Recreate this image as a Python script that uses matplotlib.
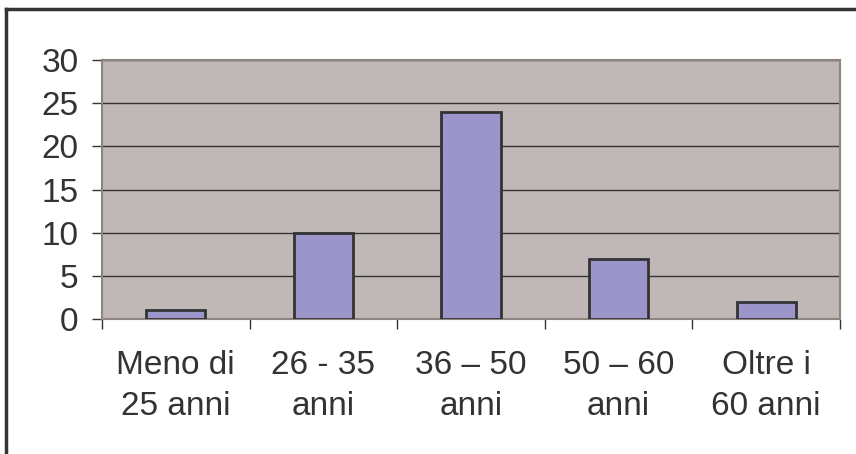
import matplotlib.pyplot as plt
from matplotlib.lines import Line2D
import numpy as np

categories = ['Meno di\n25 anni', '26 - 35\nanni', '36 – 50\nanni', '50 – 60\nanni', 'Oltre i\n60 anni']
values = [1, 10, 24, 7, 2]
yticks = [0, 5, 10, 15, 20, 25, 30]

plt.rcParams['font.family'] = ['Liberation Sans', 'DejaVu Sans']
txt = '#333333'
spine = '#8e8480'

fig = plt.figure(figsize=(8.56, 4.54), dpi=100)
ax = fig.add_axes([102 / 856, 135 / 454, 738 / 856, 259 / 454])
ax.set_facecolor('#c0b8b6')

x = np.arange(len(values))
ax.bar(x, values, width=0.4, color='#9b95c9', edgecolor='#333333', linewidth=2, zorder=3)

ax.set_xlim(-0.5, len(values) - 0.5)
ax.set_ylim(0, 30)
ax.set_yticks(yticks)
ax.yaxis.grid(True, color='#333333', linewidth=1)
ax.set_axisbelow(True)

# boundaries as major ticks, labels on minor ticks at the centres
ax.set_xticks(np.arange(-0.5, len(values)))
ax.set_xticklabels([])
ax.set_xticks(x, minor=True)
ax.set_xticklabels(categories, minor=True, fontsize=24, color=txt, linespacing=1.42)
ax.tick_params(axis='x', which='major', direction='out', length=7, width=1, color='#333333')
ax.tick_params(axis='x', which='minor', length=0, pad=22)
ax.tick_params(axis='y', direction='out', length=7, width=1, color='#333333',
               labelsize=24, labelcolor=txt, pad=10)

for s in ['left', 'bottom', 'top', 'right']:
    ax.spines[s].set_color(spine)
    ax.spines[s].set_linewidth(1.5)

# outer frame (top and left only visible)
fig.add_artist(Line2D([6 / 856, 6 / 856], [0, 1 - 9 / 454], transform=fig.transFigure,
                      color='#333333', linewidth=2.5))
fig.add_artist(Line2D([6 / 856, 1], [1 - 9 / 454, 1 - 9 / 454], transform=fig.transFigure,
                      color='#333333', linewidth=2.5))

fig.savefig('out.png', dpi=100)
